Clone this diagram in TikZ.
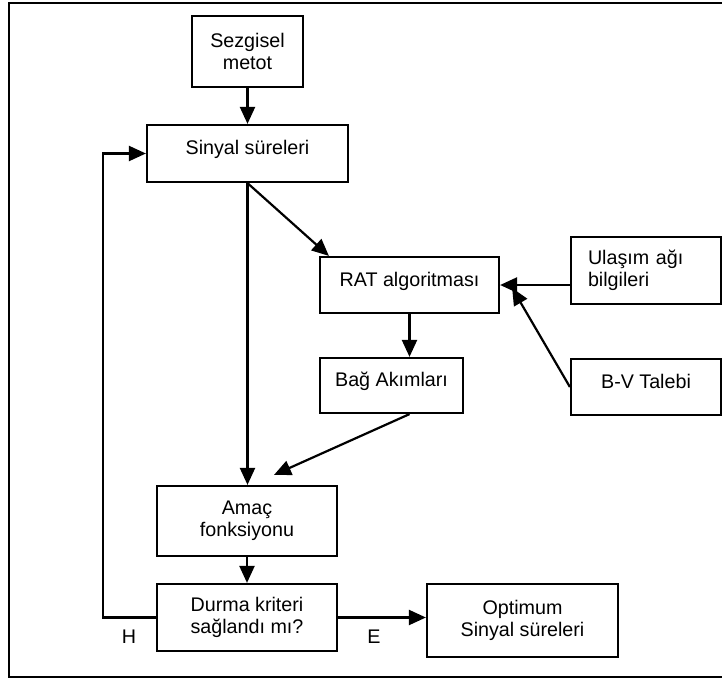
\documentclass[tikz,border=0pt]{standalone}
\usepackage{fontspec}
\setmainfont{Liberation Sans}
\usetikzlibrary{arrows.meta}

\begin{document}
\begin{tikzpicture}[x = 1pt, y = -1pt, line width = 2.2pt,
  font = \fontsize{19.7}{22.5}\selectfont,
  box/.style = {draw, rectangle, inner sep = 0pt, align = center},
  onebox/.style = {box, text height = 14pt, text depth = 12pt},
  >={Triangle[length = 17pt, width = 15pt]}]
\useasboundingbox (0,0) rectangle (722,679);
\draw (9,3) rectangle (740,677);
\node [box, minimum width = 111pt, minimum height = 71pt] (sez) at (247.5,51.5) {Sezgisel\\metot};
\node [onebox, minimum width = 201pt, minimum height = 57pt] (sin) at (247.5,153.5) {Sinyal süreleri};
\node [onebox, minimum width = 179pt, minimum height = 56pt] (rat) at (409.5,285) {RAT algoritması};
\node [box, align = left, text width = 116pt, inner xsep = 17pt, minimum height = 67pt] (ula) at (646,270.5) {Ulaşım ağı\\bilgileri};
\node [onebox, minimum width = 150pt, minimum height = 56pt] (bv) at (646,387) {B-V Talebi};
\node [onebox, minimum width = 143pt, minimum height = 55pt] (bag) at (391.5,385.5) {Bağ Akımları};
\node [box, minimum width = 180pt, minimum height = 70pt] (amac) at (247,521) {Amaç\\fonksiyonu};
\node [box, minimum width = 180pt, minimum height = 67pt] (dur) at (247,617.5) {Durma kriteri\\sağlandı mı?};
\node [box, minimum width = 191pt, minimum height = 73pt] (opt) at (522.5,620.5) {Optimum\\Sinyal süreleri};
\node [inner sep = 0pt] (h) at (129,637) {H};
\node [inner sep = 0pt] (e) at (374,637) {E};
\draw [->] (sez.south) -- (sin.north);
\draw [->] (sin.south) -- (sin.south |- amac.north);
\draw [->] (sin.south) -- ([xshift = 10pt]rat.north west);
\draw [->] (rat.south) -- (rat.south |- bag.north);
\draw [->] ([xshift = 18pt]bag.south) -- ([xshift = 27pt, yshift = 10pt]amac.north);
\draw [->] (ula.west |- rat.east) -- (rat.east);
\draw [->] (bv.west) -- ([xshift = 12pt, yshift = -3pt]rat.east);
\draw [->] (amac.south) -- (dur.north);
\draw [->] (dur.east) -- (dur.east -| opt.west);
\draw [->] (dur.west) -- ++(-53,0) |- (sin.west);
\end{tikzpicture}
\end{document}
